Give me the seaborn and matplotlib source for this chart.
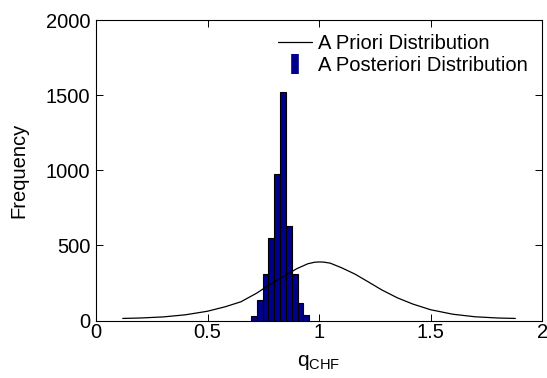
import numpy as np
import pandas as pd
import matplotlib
matplotlib.use("Agg")
import matplotlib.pyplot as plt
import seaborn as sns
from matplotlib.lines import Line2D

# posterior histogram (bin edges + counts)
bin_edges = [0.695, 0.721, 0.747, 0.773, 0.800, 0.826, 0.852, 0.878, 0.904, 0.930, 0.956]
bin_counts = [30, 136, 309, 549, 973, 1519, 629, 309, 118, 37]

# prior distribution curve
prior_x = [0.12, 0.2, 0.3, 0.4, 0.5, 0.58, 0.65, 0.72, 0.78, 0.84, 0.9, 0.95, 0.98, 1.0,
           1.02, 1.05, 1.1, 1.16, 1.22, 1.28, 1.35, 1.42, 1.5, 1.6, 1.7, 1.8, 1.88]
prior_y = [14, 17, 24, 38, 62, 92, 125, 182, 240, 292, 345, 378, 388, 390,
           389, 382, 352, 310, 258, 205, 152, 110, 72, 42, 25, 17, 14]

sns.set_style("ticks")
plt.rcParams['font.family'] = ['Liberation Sans', 'DejaVu Sans']
plt.rcParams['font.size'] = 14.5
for k in ['text.color', 'axes.labelcolor', 'xtick.color', 'ytick.color', 'axes.edgecolor']:
    plt.rcParams[k] = 'black'

centers = [(bin_edges[i] + bin_edges[i + 1]) / 2 for i in range(len(bin_counts))]
hist_df = pd.DataFrame({'q': centers, 'n': bin_counts})
prior_df = pd.DataFrame({'q': prior_x, 'freq': prior_y})

fig = plt.figure(figsize=(5.47, 3.78), dpi=100)
ax = fig.add_axes([0.1755, 0.152, 0.8155, 0.795])

sns.histplot(data=hist_df, x='q', weights='n', bins=bin_edges, ax=ax,
             color='#00008B', alpha=1, edgecolor='black', linewidth=0.8)
sns.lineplot(data=prior_df, x='q', y='freq', ax=ax, color='black', linewidth=0.9)

ax.set_xlim(0, 2)
ax.set_ylim(0, 2000)
ax.set_xticks([0, 0.5, 1, 1.5, 2])
ax.set_xticklabels(['0', '0.5', '1', '1.5', '2'])
ax.set_yticks([0, 500, 1000, 1500, 2000])
ax.tick_params(direction='in', top=True, right=True, length=5, width=0.7,
               labelsize=14.5, colors='black')
ax.tick_params(axis='x', pad=2)
ax.tick_params(axis='y', pad=4)
for s in ax.spines.values():
    s.set_visible(True)
    s.set_linewidth(0.8)
    s.set_color('black')

ax.set_xlabel(r'$\mathregular{q_{CHF}}$', fontsize=15, labelpad=8, color='black')
ax.set_ylabel('Frequency', fontsize=14.5, labelpad=13, color='black')

handles = [Line2D([], [], color='black', linewidth=0.9),
           Line2D([], [], linestyle='none', marker='|', markersize=15,
                  markeredgewidth=5.5, color='#00008B')]
leg = ax.legend(handles, ['A Priori Distribution', 'A Posteriori Distribution'],
                loc='upper right', frameon=False, fontsize=14.5, handlelength=1.7,
                handletextpad=0.3, labelspacing=0.15, borderaxespad=0.3)
for t in leg.get_texts():
    t.set_color('black')

fig.savefig('out.png', dpi=100)
